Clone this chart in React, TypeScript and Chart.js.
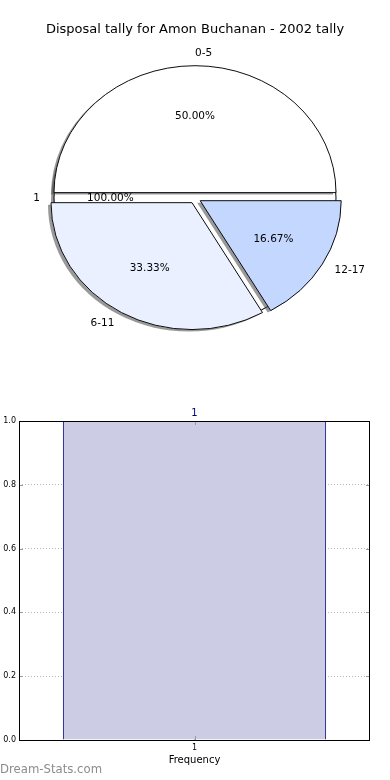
import React, { useEffect, useRef } from 'react';
import { Chart, registerables } from 'chart.js';

Chart.register(...registerables);

const TITLE = 'Disposal tally for Amon Buchanan - 2002 tally';
const pieCategories = ['0-5', '6-11', '12-17'];
const pieValues = [3, 2, 1];
const pieColors = ['#FFFFFF', '#EAF0FF', '#C4D8FF'];
const backCategories = ['1'];
const backValues = [1];
const backColors = ['#FFFFFF'];
const barCategories = ['1'];
const barValues = [1];
const barLabels = ['1'];
const yTickValues = [0, 0.2, 0.4, 0.6, 0.8, 1.0];

const FONT = 'DejaVu Sans';
const SY = 0.9;
const EXPLODE = 6;
const RADIUS = 141;
const TAU = Math.PI * 2;

function drawPieLabels(ctx: CanvasRenderingContext2D, chart: any, explode: number) {
  const meta = chart.getDatasetMeta(0);
  const ds = chart.data.datasets[0];
  const total = ds.data.reduce((a: number, b: number) => a + b, 0);
  ctx.save();
  ctx.fillStyle = '#000';
  ctx.textBaseline = 'middle';
  ctx.font = `10.5px "${FONT}"`;
  meta.data.forEach((arc: any, i: number) => {
    const mid = (arc.startAngle + arc.endAngle) / 2;
    const r = arc.outerRadius;
    const c = Math.cos(mid);
    const s = Math.sin(mid);
    const lx = arc.x + c * (1.1 * r + explode);
    const ly = arc.y + s * (1.1 * r + explode) * SY;
    ctx.textAlign = c > -1e-6 ? 'left' : 'right';
    ctx.fillText(String(chart.data.labels[i]), lx, ly);
    const px = arc.x + c * (0.6 * r + explode);
    const py = arc.y + s * (0.6 * r + explode) * SY;
    ctx.textAlign = 'center';
    ctx.fillText(((ds.data[i] / total) * 100).toFixed(2) + '%', px, py);
  });
  ctx.restore();
}

function makePiePlugin(explode: number, overlay: boolean, getBack: () => any) {
  return {
    id: 'pieExtras',
    beforeDatasetDraw(chart: any) {
      const meta = chart.getDatasetMeta(0);
      const ctx = chart.ctx;
      const place = (arc: any) => {
        const mid = (arc.startAngle + arc.endAngle) / 2;
        ctx.translate(0, arc.y);
        ctx.scale(1, SY);
        ctx.translate(0, -arc.y);
        ctx.translate(Math.cos(mid) * explode, Math.sin(mid) * explode);
      };
      const fillOnly = (arc: any) => {
        const orig = arc.options;
        arc.options = Object.assign({}, orig, { borderWidth: 0 });
        arc.draw(ctx);
        arc.options = orig;
      };
      // shadow pass (fill only, beneath all wedges)
      meta.data.forEach((arc: any) => {
        ctx.save();
        place(arc);
        ctx.shadowColor = 'rgba(70,70,70,0.55)';
        ctx.shadowOffsetX = -3;
        ctx.shadowOffsetY = 2;
        ctx.shadowBlur = 0;
        fillOnly(arc);
        ctx.restore();
      });
      // wedge pass
      meta.data.forEach((arc: any) => {
        ctx.save();
        place(arc);
        const full = arc.endAngle - arc.startAngle >= TAU - 1e-9;
        if (full) {
          // a whole-circle wedge has no radial edge
          fillOnly(arc);
          ctx.beginPath();
          ctx.arc(arc.x, arc.y, arc.outerRadius, 0, TAU);
          ctx.restore();
          ctx.save();
          ctx.lineWidth = arc.options.borderWidth;
          ctx.strokeStyle = arc.options.borderColor;
          ctx.stroke();
        } else {
          arc.draw(ctx);
        }
        ctx.restore();
      });
      return false;
    },
    afterDraw(chart: any) {
      if (!overlay) return;
      const ctx = chart.ctx;
      const back = getBack();
      if (back) drawPieLabels(ctx, back, 0);
      drawPieLabels(ctx, chart, explode);
      ctx.save();
      ctx.fillStyle = '#000';
      ctx.textBaseline = 'middle';
      ctx.font = `13px "${FONT}"`;
      ctx.textAlign = 'center';
      ctx.fillText(TITLE, 195, 30);
      ctx.restore();
    },
  };
}

function pieConfig(labels: string[], values: number[], colors: string[], plugin: any): any {
  return {
    type: 'pie',
    data: {
      labels,
      datasets: [
        {
          data: values,
          backgroundColor: colors,
          borderColor: '#000000',
          borderWidth: 1,
          offset: 0,
          hoverOffset: 0,
        },
      ],
    },
    options: {
      animation: false,
      responsive: false,
      devicePixelRatio: 1,
      rotation: 90,
      radius: RADIUS,
      layout: { padding: { top: 0, bottom: 4, left: 0, right: 0 } },
      events: [],
      plugins: { legend: { display: false }, tooltip: { enabled: false }, title: { display: false } },
    },
    plugins: [plugin],
  };
}

const barExtras = {
  id: 'barExtras',
  afterDraw(chart: any) {
    const ctx = chart.ctx;
    const { left, right, top, bottom } = chart.chartArea;
    const yScale = chart.scales.y;
    const xScale = chart.scales.x;
    ctx.save();
    ctx.strokeStyle = '#9a9a9a';
    ctx.lineWidth = 1;
    yScale.ticks.forEach((t: any) => {
      const y = Math.round(yScale.getPixelForValue(t.value)) + 0.5;
      ctx.beginPath();
      ctx.moveTo(left, y);
      ctx.lineTo(left + 4, y);
      ctx.moveTo(right, y);
      ctx.lineTo(right - 4, y);
      ctx.stroke();
    });
    xScale.ticks.forEach((t: any, i: number) => {
      const x = Math.round(xScale.getPixelForTick(i)) + 0.5;
      ctx.beginPath();
      ctx.moveTo(x, top);
      ctx.lineTo(x, top + 4);
      ctx.moveTo(x, bottom);
      ctx.lineTo(x, bottom - 4);
      ctx.stroke();
    });
    ctx.strokeStyle = '#000';
    ctx.strokeRect(Math.round(left) + 0.5, Math.round(top) + 0.5, Math.round(right - left) - 1, Math.round(bottom - top));
    const meta = chart.getDatasetMeta(0);
    ctx.fillStyle = '#000080';
    ctx.font = `10px "${FONT}"`;
    ctx.textAlign = 'center';
    ctx.textBaseline = 'bottom';
    meta.data.forEach((bar: any, i: number) => {
      ctx.fillText(barLabels[i], bar.x, bar.y - 3);
    });
    ctx.fillStyle = '#000';
    ctx.textBaseline = 'middle';
    ctx.fillText('Frequency', (left + right) / 2, bottom + 20);
    ctx.fillStyle = '#8c8c8c';
    ctx.font = `11.7px "${FONT}"`;
    ctx.textAlign = 'left';
    ctx.fillText('Dream-Stats.com', 0, bottom + 30);
    ctx.restore();
  },
};

function barConfig(): any {
  return {
    type: 'bar',
    data: {
      labels: barCategories,
      datasets: [
        {
          data: barValues,
          backgroundColor: '#CCCCE5',
          borderColor: '#000080',
          borderWidth: 1,
          borderSkipped: 'bottom',
          barPercentage: 0.75,
          categoryPercentage: 1,
        },
      ],
    },
    options: {
      animation: false,
      responsive: false,
      devicePixelRatio: 1,
      events: [],
      layout: { padding: { top: 21, right: 20, left: 0, bottom: 0 } },
      plugins: { legend: { display: false }, tooltip: { enabled: false } },
      scales: {
        x: {
          z: 1,
          afterFit(scale: any) {
            scale.height = 40;
          },
          grid: { offset: false, drawTicks: false, color: '#a8a8a8', lineWidth: 1 },
          border: { display: false, dash: [1, 2] },
          ticks: { font: { family: FONT, size: 8 }, color: '#000', padding: 3 },
        },
        y: {
          z: 1,
          min: 0,
          max: 1,
          afterFit(scale: any) {
            scale.width = 19;
          },
          afterBuildTicks(scale: any) {
            scale.ticks = yTickValues.map((v) => ({ value: v }));
          },
          grid: { drawTicks: false, color: '#b4b4b4', lineWidth: 1 },
          border: { display: false, dash: [1, 2] },
          ticks: {
            font: { family: FONT, size: 8 },
            color: '#000',
            padding: 3,
            callback: (v: number) => Number(v).toFixed(1),
          },
        },
      },
    },
    plugins: [barExtras],
  };
}

export default function App() {
  const backRef = useRef<HTMLCanvasElement>(null);
  const pieRef = useRef<HTMLCanvasElement>(null);
  const barRef = useRef<HTMLCanvasElement>(null);

  useEffect(() => {
    let backChart: any = null;
    backChart = new Chart(
      backRef.current as HTMLCanvasElement,
      pieConfig(backCategories, backValues, backColors, makePiePlugin(0, false, () => null))
    );
    const pie = new Chart(
      pieRef.current as HTMLCanvasElement,
      pieConfig(
        [...pieCategories].reverse(),
        [...pieValues].reverse(),
        [...pieColors].reverse(),
        makePiePlugin(EXPLODE, true, () => backChart)
      )
    );
    const bar = new Chart(barRef.current as HTMLCanvasElement, barConfig());
    return () => {
      backChart.destroy();
      pie.destroy();
      bar.destroy();
    };
  }, []);

  const abs = (top: number, h: number): React.CSSProperties => ({
    position: 'absolute',
    left: 0,
    top,
    width: 390,
    height: h,
  });

  return (
    <div style={{ position: 'absolute', left: 0, top: 0, width: 390, height: 780, background: '#fff' }}>
      <canvas ref={backRef} width={390} height={400} style={abs(0, 400)} />
      <canvas ref={pieRef} width={390} height={400} style={abs(0, 400)} />
      <canvas ref={barRef} width={390} height={380} style={abs(400, 380)} />
    </div>
  );
}
